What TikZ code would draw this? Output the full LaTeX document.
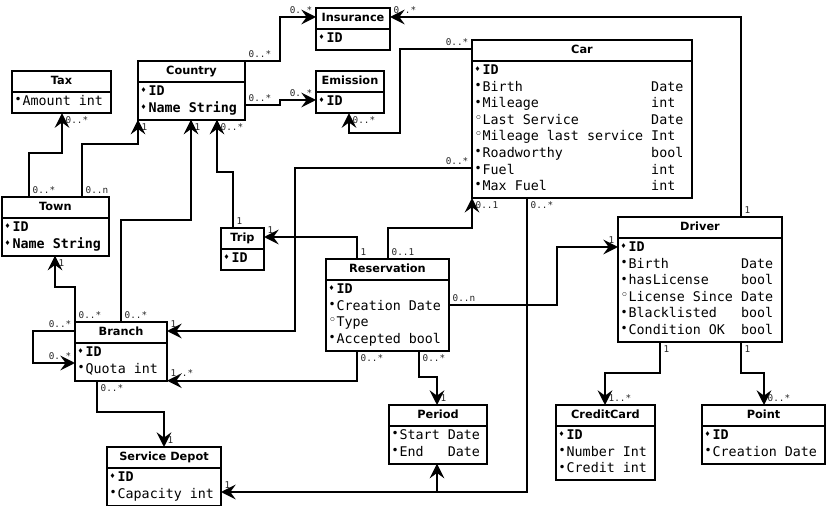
\documentclass[tikz,border=0pt]{standalone}
\usepackage{fontspec}
\setmainfont{DejaVu Sans}
\setmonofont{DejaVu Sans Mono}
\newfontfamily\symfnt{DejaVu Sans}
\usetikzlibrary{shapes.multipart,arrows.meta}

\newcommand{\ttlfnt}{\fontsize{8.5}{12.2}\selectfont\bfseries}
\newcommand{\attfnt}{\fontsize{10}{12.4}\selectfont\ttfamily}
\newcommand{\pk}{\makebox[6pt][l]{\raisebox{2.2pt}{\symfnt\fontsize{5}{5}\selectfont ♦}}}
\newcommand{\req}{\makebox[6pt][l]{\raisebox{1.4pt}{\symfnt\fontsize{9}{9}\selectfont •}}}
\newcommand{\opt}{\makebox[6pt][l]{\raisebox{1.6pt}{\symfnt\fontsize{10}{10}\selectfont ◦}}}
\newcommand{\ent}[3]{\makebox[#1][c]{\ttlfnt\strut #2}\nodepart{two}\makebox[#1][l]{\attfnt\begin{tabular}{@{}l@{\ }l@{}}#3\end{tabular}}}

\begin{document}
\begin{tikzpicture}[x=0.75pt,y=-0.75pt,
  entity/.style={draw,line width=1.5pt,rectangle split,rectangle split parts=2,inner xsep=2pt,inner ysep=1pt,outer sep=0pt,anchor=north west},
  conn/.style={line width=1.5pt,-{Stealth[length=11pt,width=11pt,inset=4pt]}},
  mult/.style={font=\fontsize{7}{8}\selectfont\ttfamily,text=black!85,inner sep=2pt}]
  \useasboundingbox (0,0) rectangle (826,506);

  \node[entity] (tax) at (12,71) {\ent{70.25pt}{Tax}{\req Amount & int}};
  \node[entity] (country) at (138,61) {\ent{76.25pt}{Country}{\pk\textbf{ID} & \\ \pk\textbf{Name} & \textbf{String}}};
  \node[entity] (insurance) at (316,8) {\ent{51.5pt}{Insurance}{\pk\textbf{ID} &}};
  \node[entity] (emission) at (316,71) {\ent{47pt}{Emission}{\pk\textbf{ID} &}};
  \node[entity] (car) at (472,40) {\ent{161pt}{Car}{\pk\textbf{ID} & \\ \req Birth & Date \\ \req Mileage & int \\ \opt Last Service & Date \\ \opt Mileage last service & Int \\ \req Roadworthy & bool \\ \req Fuel & int \\ \req Max Fuel & int}};
  \node[entity] (town) at (2,197) {\ent{76.25pt}{Town}{\pk\textbf{ID} & \\ \pk\textbf{Name} & \textbf{String}}};
  \node[entity] (trip) at (221,228) {\ent{28.25pt}{Trip}{\pk\textbf{ID} &}};
  \node[entity] (reservation) at (326,259) {\ent{88.25pt}{Reservation}{\pk\textbf{ID} & \\ \req Creation & Date \\ \opt Type & \\ \req Accepted & bool}};
  \node[entity] (driver) at (618,217) {\ent{119pt}{Driver}{\pk\textbf{ID} & \\ \req Birth & Date \\ \req hasLicense & bool \\ \opt License Since & Date \\ \req Blacklisted & bool \\ \req Condition OK & bool}};
  \node[entity] (branch) at (75,322) {\ent{65pt}{Branch}{\pk\textbf{ID} & \\ \req Quota & int}};
  \node[entity] (period) at (389,405) {\ent{69.5pt}{Period}{\req Start & Date \\ \req End & Date}};
  \node[entity] (ccard) at (556,405) {\ent{70.25pt}{CreditCard}{\pk\textbf{ID} & \\ \req Number & Int \\ \req Credit & int}};
  \node[entity] (point) at (702,405) {\ent{88.25pt}{Point}{\pk\textbf{ID} & \\ \req Creation & Date}};
  \node[entity] (sdepot) at (107,447) {\ent{81.5pt}{Service Depot}{\pk\textbf{ID} & \\ \req Capacity & int}};

  \draw[conn] (29,0 |- town.north) node[mult,anchor=south west] {0..*} |- (62,153) -- (62,0 |- tax.south) node[mult,anchor=north west] {0..*};
  \draw[conn] (82,0 |- town.north) node[mult,anchor=south west] {0..n} |- (138,144) -- (country.south west) node[mult,anchor=north west] {1};
  \draw[conn] (121,0 |- branch.north) node[mult,anchor=south west] {0..*} |- (191,220) -- (191,0 |- country.south) node[mult,anchor=north west] {1};
  \draw[conn] (233,0 |- trip.north) node[mult,anchor=south west] {1} |- (217,172) -- (217,0 |- country.south) node[mult,anchor=north west] {0..*};
  \draw[conn] (country.north east) node[mult,anchor=south west] {0..*} -| (280,17) -- (insurance.west |- 0,17) node[mult,anchor=south east] {0..*};
  \draw[conn] (country.east |- 0,105) node[mult,anchor=south west] {0..*} -| (280,100) -- (emission.west |- 0,100) node[mult,anchor=south east] {0..*};
  \draw[conn] (car.west |- 0,49) node[mult,anchor=south east] {0..*} -| (400,133) -| (349,0 |- emission.south) node[mult,anchor=north west] {0..*};
  \draw[conn] (741,0 |- driver.north) node[mult,anchor=south west] {1} |- (insurance.east |- 0,17) node[mult,anchor=south west] {0..*};
  \draw[conn] (car.west |- 0,168) node[mult,anchor=south east] {0..*} -| (295,331) -- (branch.east |- 0,331) node[mult,anchor=south west] {1};
  \draw[conn] (357,0 |- reservation.north) node[mult,anchor=south west] {1} |- (trip.east |- 0,237) node[mult,anchor=south west] {1};
  \draw[conn] (388,0 |- reservation.north) node[mult,anchor=south west] {0..1} |- (472,228) -- (car.south west) node[mult,anchor=north west] {0..1};
  \draw[conn] (357,0 |- reservation.south) node[mult,anchor=north west] {0..*} |- (branch.south east) node[mult,anchor=south west] {1..*};
  \draw[conn] (419,0 |- reservation.south) node[mult,anchor=north west] {0..*} |- (437,377) -- (437,0 |- period.north) node[mult,anchor=south west] {1};
  \draw[conn] (reservation.east |- 0,305) node[mult,anchor=south west] {0..n} -| (557,247) -- (driver.west |- 0,247) node[mult,anchor=south east] {1};
  \draw[conn] (527,0 |- car.south) node[mult,anchor=north west] {0..*} |- (sdepot.east |- 0,492) node[mult,anchor=south west] {1};
  \draw[conn] (527,0 |- car.south) |- (437,492) -- (437,0 |- period.south);
  \draw[conn] (branch.west |- 0,331) node[mult,anchor=south east] {0..*} -| (33,363) -- (branch.west |- 0,363) node[mult,anchor=south east] {0..*};
  \draw[conn] (branch.north west) node[mult,anchor=south west] {0..*} |- (55,287) -- (55,0 |- town.south) node[mult,anchor=north west] {1};
  \draw[conn] (97,0 |- branch.south) node[mult,anchor=north west] {0..*} |- (164,412) -- (164,0 |- sdepot.north) node[mult,anchor=south west] {1};
  \draw[conn] (660,0 |- driver.south) node[mult,anchor=north west] {1} |- (605,373) -- (605,0 |- ccard.north) node[mult,anchor=south west] {1..*};
  \draw[conn] (741,0 |- driver.south) node[mult,anchor=north west] {1} |- (764,373) -- (764,0 |- point.north) node[mult,anchor=south west] {0..*};
\end{tikzpicture}
\end{document}
